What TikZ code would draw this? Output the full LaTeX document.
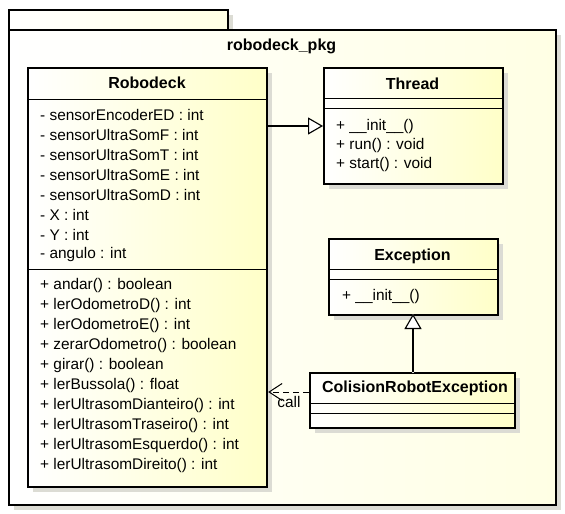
\documentclass[tikz,border=0pt]{standalone}
\usepackage{fontspec}
\setmainfont{Liberation Sans}
\usetikzlibrary{arrows.meta,shadows}
\definecolor{boxy}{HTML}{FFFFC8}
\definecolor{pkgy}{HTML}{FFFFE4}
\definecolor{shad}{HTML}{DCDCD4}
\begin{document}
\begin{tikzpicture}[x=1pt,y=-1pt,
  every node/.style={font=\fontsize{15.4}{17}\selectfont, inner sep=0pt},
  umlbox/.style={draw, line width=2.2pt, left color=white, right color=boxy, anchor=north west,
     drop shadow={shadow xshift=5pt, shadow yshift=-5pt, fill=shad, opacity=1}},
  pkgpart/.style={draw, line width=2.4pt, left color=white, right color=pkgy, anchor=north west,
     drop shadow={shadow xshift=5pt, shadow yshift=-5pt, fill=shad, opacity=1}},
  ttl/.style={font=\fontsize{16}{18}\selectfont\bfseries},
  row/.style={anchor=west},
  sep/.style={line width=0.9pt},
  gen/.style={line width=1.1pt, -{Triangle[open, length=15pt, width=17pt, fill=white, line width=1.1pt]}},
  genshadow/.style={draw=shad, line width=1.1pt, -{Triangle[open, length=15pt, width=17pt, fill=shad, line width=1.1pt]}},
  dep/.style={line width=1pt, dash pattern=on 6pt off 4pt, -{Straight Barb[length=13pt, width=17pt, line width=1pt]}}
]
\useasboundingbox (0,0) rectangle (565,514);
% package
\node[pkgpart, minimum width=219.5pt, minimum height=21pt] (tab) at (7.5,8.5) {};
\node[pkgpart, minimum width=547.5pt, minimum height=475pt] (pkg) at (7.5,29) {};
\node[ttl] (pkgname) at (281.5,46) {robodeck\_pkg};

% Robodeck
\node[umlbox, minimum width=239pt, minimum height=419pt] (robo) at (27,67) {};
\node[ttl] (robot) at (147,83) {Robodeck};
\draw[sep] (27,99) -- (266,99);
\draw[sep] (27,269) -- (266,269);
\node[row] (r1) at (40,115) {- sensorEncoderED : int};
\node[row] (r2) at (40,135) {- sensorUltraSomF : int};
\node[row] (r3) at (40,155) {- sensorUltraSomT : int};
\node[row] (r4) at (40,175) {- sensorUltraSomE : int};
\node[row] (r5) at (40,195) {- sensorUltraSomD : int};
\node[row] (r6) at (40,215) {- X : int};
\node[row] (r7) at (40,235) {- Y : int};
\node[row] (r8) at (40,255) {- angulo : int};
\node[row] (m1) at (40,286) {+ andar() : boolean};
\node[row] (m2) at (40,306) {+ lerOdometroD() : int};
\node[row] (m3) at (40,326) {+ lerOdometroE() : int};
\node[row] (m4) at (40,346) {+ zerarOdometro() : boolean};
\node[row] (m5) at (40,366) {+ girar() : boolean};
\node[row] (m6) at (40,386) {+ lerBussola() : float};
\node[row] (m7) at (40,406) {+ lerUltrasomDianteiro() : int};
\node[row] (m8) at (40,426) {+ lerUltrasomTraseiro() : int};
\node[row] (m9) at (40,446) {+ lerUltrasomEsquerdo() : int};
\node[row] (m10) at (40,466) {+ lerUltrasomDireito() : int};

% Thread
\node[umlbox, minimum width=179pt, minimum height=116pt] (thread) at (323,67) {};
\node[ttl] (threadt) at (412.5,84) {Thread};
\draw[sep] (323,98) -- (502,98);
\draw[sep] (323,108) -- (502,108);
\node[row] (t1) at (336,127) {+ \_\_init\_\_()};
\node[row] (t2) at (336,146) {+ run() : void};
\node[row] (t3) at (336,165) {+ start() : void};

% Exception
\node[umlbox, minimum width=169pt, minimum height=76pt] (exc) at (328,238) {};
\node[ttl] (exct) at (412.5,256) {Exception};
\draw[sep] (328,269) -- (497,269);
\draw[sep] (328,279) -- (497,279);
\node[row] (e1) at (342,297) {+ \_\_init\_\_()};

% ColisionRobotException
\node[umlbox, minimum width=205pt, minimum height=55pt] (col) at (309,372) {};
\node[ttl] (colt) at (415,388) {ColisionRobotException};
\draw[sep] (309,403) -- (514,403);
\draw[sep] (309,413) -- (514,413);

% relations
\coordinate (ga) at (robo.east |- 0,126);
\coordinate (gb) at (thread.west |- 0,126);
\coordinate (ha) at (413,372);
\coordinate (hb) at (413,314);
\begin{scope}[shift={(3,4)}]
\draw[genshadow] ([xshift=1.2pt]ga) -- (gb);
\draw[genshadow] ([yshift=-1.2pt]ha) -- (hb);
\end{scope}
\draw[gen] (ga) -- (gb);
\draw[gen] (ha) -- (hb);
\coordinate (da) at (col.west |- 0,392);
\coordinate (db) at (robo.east |- 0,392);
\draw[dep] (da) -- (db);
\node[anchor=center] (call) at (289,402) {call};
\end{tikzpicture}
\end{document}
